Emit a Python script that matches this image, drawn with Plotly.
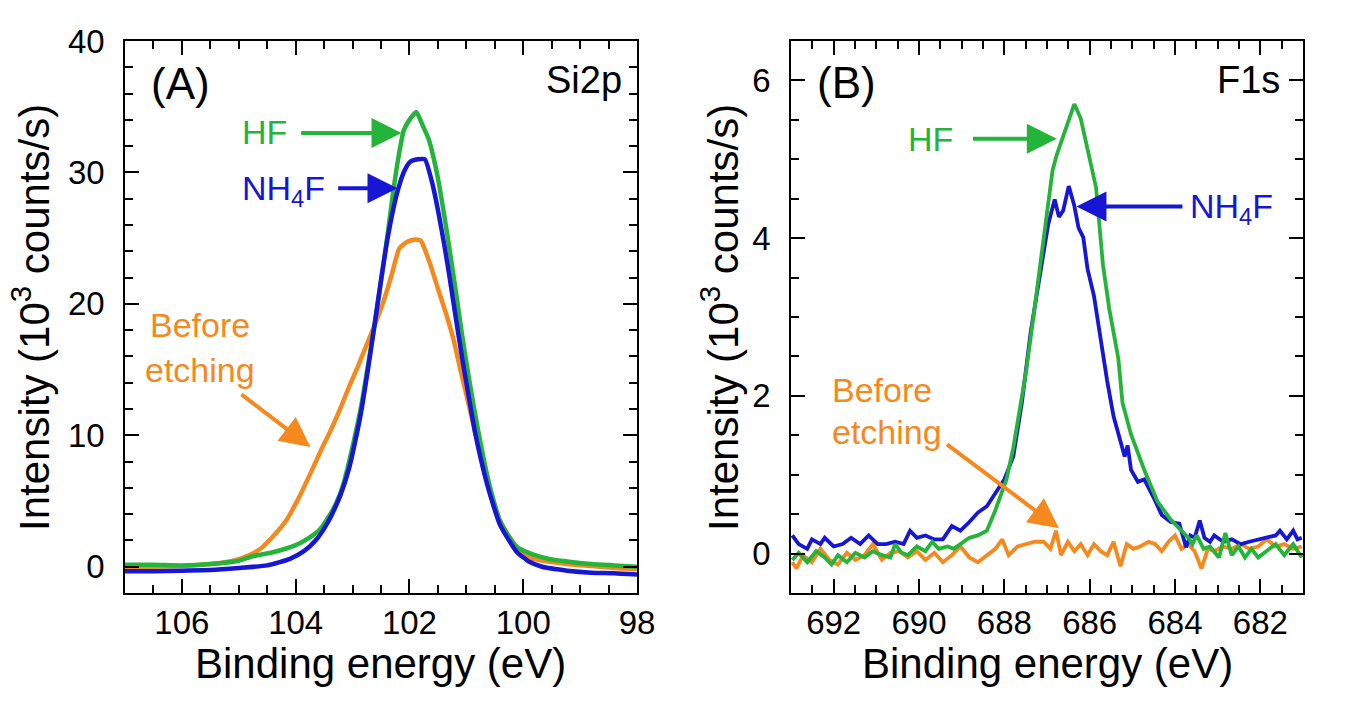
import plotly.graph_objects as go

# ---------------- Panel A : Si2p ----------------
a_before_E = [107.0, 106.5, 106.0, 105.5, 105.06, 104.8, 104.61, 104.4, 104.17, 103.95, 103.73, 103.55,
              103.36, 103.2, 103.06, 102.9, 102.77, 102.6, 102.47, 102.32, 102.18, 102.05, 101.9, 101.8,
              101.65, 101.51, 101.36, 101.22, 101.1, 101.0, 100.85, 100.70, 100.55, 100.41, 100.25, 100.11,
              99.95, 99.82, 99.5, 99.23, 98.8, 98.4, 98.0]
a_before_I = [-0.05, 0.0, 0.05, 0.2, 0.5, 0.9, 1.4, 2.3, 3.5, 5.2, 7.2, 8.9,
              10.6, 12.2, 13.7, 15.3, 16.7, 18.5, 20.0, 22.1, 24.2, 24.7, 24.9, 24.8,
              23.2, 21.3, 19.3, 17.2, 14.9, 13.1, 10.3, 7.6, 5.4, 3.5, 2.3, 1.4,
              0.9, 0.6, 0.35, 0.2, 0.05, -0.1, -0.2]

a_hf_E = [107.0, 106.5, 106.0, 105.5, 105.0, 104.76, 104.4, 104.02, 103.8, 103.58, 103.42, 103.28,
          103.16, 103.06, 102.95, 102.84, 102.73, 102.62, 102.47, 102.38, 102.29, 102.2, 102.10, 102.0,
          101.88, 101.77, 101.66, 101.57, 101.48, 101.38, 101.29, 101.18, 101.07, 100.96, 100.85, 100.74,
          100.63, 100.52, 100.41, 100.25, 100.11, 99.9, 99.74, 99.5, 99.23, 98.8, 98.4, 98.0]
a_hf_I = [0.15, 0.15, 0.1, 0.2, 0.45, 0.8, 1.1, 1.6, 2.1, 2.8, 3.8, 4.9,
          6.3, 8.0, 10.1, 12.4, 15.3, 18.2, 22.6, 25.4, 28.4, 31.0, 33.2, 34.0,
          34.6, 33.6, 32.5, 31.0, 29.1, 26.5, 24.0, 20.8, 17.5, 14.5, 11.7, 9.2,
          6.9, 5.0, 3.5, 2.3, 1.5, 1.05, 0.8, 0.55, 0.4, 0.2, 0.1, 0.0]

a_nh4f_E = [107.0, 106.5, 106.0, 105.5, 105.0, 104.5, 104.1, 103.85, 103.65, 103.5, 103.36, 103.2,
            103.06, 102.95, 102.84, 102.73, 102.62, 102.5, 102.40, 102.28, 102.18, 102.08, 101.99, 101.85,
            101.73, 101.6, 101.48, 101.38, 101.29, 101.18, 101.07, 100.96, 100.85, 100.74, 100.63, 100.52,
            100.41, 100.25, 100.11, 99.9, 99.67, 99.4, 99.23, 98.8, 98.4, 98.0]
a_nh4f_I = [-0.35, -0.35, -0.3, -0.25, -0.1, 0.1, 0.6, 1.2, 2.0, 2.9, 4.0, 5.6,
            7.5, 9.6, 12.0, 15.0, 18.2, 21.8, 24.6, 27.3, 29.0, 30.2, 30.8, 31.0,
            31.0, 29.2, 26.7, 24.3, 21.9, 18.8, 15.8, 13.0, 10.3, 8.1, 6.2, 4.6,
            3.2, 2.0, 1.1, 0.4, 0.0, -0.2, -0.3, -0.45, -0.5, -0.6]

# ---------------- Panel B : F1s ----------------
b_hf_E = [692.97, 692.82, 692.62, 692.41, 692.21, 692.05, 691.90, 691.69, 691.49, 691.28, 691.08, 690.87,
          690.67, 690.56, 690.41, 690.26, 690.05, 689.85, 689.69, 689.54, 689.33, 689.18, 689.03, 688.82,
          688.62, 688.41, 688.21, 687.95, 687.79, 687.49, 687.28, 687.08, 686.87, 686.77, 686.56, 686.36,
          686.21, 686.05, 685.85, 685.69, 685.54, 685.33, 685.23, 685.03, 684.72, 684.41, 684.10, 683.90,
          683.69, 683.59, 683.49, 683.33, 683.18, 682.97, 682.82, 682.67, 682.51, 682.36, 682.21, 682.05,
          681.85, 681.64, 681.44, 681.23, 681.03]
b_hf_I = [-0.08, 0.01, -0.11, 0.03, -0.05, -0.14, -0.02, -0.11, 0.01, -0.05, 0.03, -0.02,
          -0.05, 0.12, 0.01, -0.02, 0.09, 0.03, 0.15, 0.06, 0.09, 0.06, 0.12, 0.20,
          0.23, 0.29, 0.55, 0.94, 1.34, 2.31, 3.16, 4.01, 4.86, 5.06, 5.38, 5.70,
          5.52, 5.15, 4.64, 3.67, 3.10, 2.48, 1.91, 1.51, 1.06, 0.66, 0.43, 0.32,
          0.20, 0.12, 0.23, 0.06, 0.09, -0.05, 0.26, -0.02, 0.09, -0.05, 0.06, -0.05,
          0.03, 0.12, -0.02, 0.12, -0.05]

b_nh4f_E = [692.97, 692.82, 692.62, 692.51, 692.31, 692.21, 692.00, 691.79, 691.59, 691.38, 691.18, 690.97,
            690.77, 690.56, 690.36, 690.21, 690.05, 689.85, 689.64, 689.44, 689.23, 689.03, 688.82, 688.62,
            688.41, 688.21, 688.00, 687.79, 687.59, 687.38, 687.18, 686.97, 686.82, 686.72, 686.62, 686.49,
            686.36, 686.26, 686.15, 686.05, 685.90, 685.74, 685.59, 685.44, 685.28, 685.18, 685.11, 685.03,
            684.87, 684.72, 684.51, 684.31, 684.10, 683.90, 683.74, 683.64, 683.54, 683.42, 683.31, 683.18,
            683.08, 682.87, 682.67, 682.46, 682.26, 682.05, 681.85, 681.64, 681.54, 681.38, 681.23, 681.13,
            681.03]
b_nh4f_I = [0.23, 0.12, 0.06, 0.18, 0.12, 0.20, 0.09, 0.12, 0.20, 0.12, 0.23, 0.12,
            0.12, 0.15, 0.12, 0.29, 0.20, 0.23, 0.18, 0.18, 0.35, 0.29, 0.40, 0.52,
            0.60, 0.77, 0.94, 1.23, 1.91, 2.82, 3.50, 4.18, 4.49, 4.27, 4.35, 4.66,
            4.41, 4.13, 4.01, 3.61, 3.27, 2.70, 2.19, 1.74, 1.40, 1.23, 1.37, 1.06,
            0.91, 0.94, 0.72, 0.49, 0.40, 0.38, 0.08, 0.23, 0.20, 0.42, 0.20, 0.15,
            0.23, 0.15, 0.18, 0.12, 0.15, 0.18, 0.20, 0.23, 0.29, 0.18, 0.29, 0.18,
            0.20]

b_before_E = [692.97, 692.87, 692.72, 692.51, 692.31, 692.10, 691.90, 691.69, 691.49, 691.28, 691.08, 690.87,
              690.67, 690.46, 690.26, 690.05, 689.85, 689.64, 689.44, 689.23, 689.03, 688.82, 688.62, 688.41,
              688.21, 688.05, 687.90, 687.69, 687.49, 687.28, 687.08, 686.92, 686.79, 686.67, 686.51, 686.36,
              686.21, 686.05, 685.90, 685.74, 685.59, 685.44, 685.28, 685.13, 684.97, 684.82, 684.62, 684.46,
              684.31, 684.15, 684.00, 683.85, 683.69, 683.54, 683.38, 683.23, 683.08, 682.87, 682.67, 682.46,
              682.26, 682.05, 681.85, 681.64, 681.44, 681.23, 681.03]
b_before_I = [-0.11, -0.19, -0.02, -0.11, 0.06, -0.08, -0.14, 0.01, -0.08, -0.02, 0.12, -0.08,
              0.01, 0.03, -0.05, 0.03, -0.08, 0.01, -0.11, -0.02, 0.09, -0.05, -0.11, -0.02,
              0.06, 0.18, -0.02, 0.09, 0.12, 0.15, 0.15, 0.06, 0.29, -0.02, 0.15, 0.03,
              0.12, -0.02, 0.12, 0.03, -0.02, 0.15, -0.16, 0.12, 0.06, 0.09, 0.15, 0.12,
              0.03, 0.15, 0.23, 0.06, 0.12, 0.03, -0.19, 0.06, 0.03, 0.09, 0.06, 0.12,
              0.06, 0.09, 0.18, 0.09, 0.12, 0.06, 0.09]

# axis settings
xa_range = [107, 98]
ya_range = [-2, 40]
xb_range = [693, 681]
yb_range = [-0.5, 6.5]
x_title = "Binding energy (eV)"
y_title = "Intensity (10<sup>3</sup> counts/s)"

GREEN = "#25b43a"
BLUE = "#1616d4"
ORANGE = "#f5891d"
FONT = "Liberation Sans, Arial, sans-serif"

fig = go.Figure()
fig.add_trace(go.Scatter(x=a_before_E, y=a_before_I, mode="lines", line=dict(color=ORANGE, width=4.5, shape="spline", smoothing=0.5), xaxis="x", yaxis="y"))
fig.add_trace(go.Scatter(x=a_hf_E, y=a_hf_I, mode="lines", line=dict(color=GREEN, width=4.5, shape="spline", smoothing=0.5), xaxis="x", yaxis="y"))
fig.add_trace(go.Scatter(x=a_nh4f_E, y=a_nh4f_I, mode="lines", line=dict(color=BLUE, width=4.5, shape="spline", smoothing=0.5), xaxis="x", yaxis="y"))

fig.add_trace(go.Scatter(x=b_before_E, y=b_before_I, mode="lines", line=dict(color=ORANGE, width=3.8), xaxis="x2", yaxis="y2"))
fig.add_trace(go.Scatter(x=b_nh4f_E, y=b_nh4f_I, mode="lines", line=dict(color=BLUE, width=3.8), xaxis="x2", yaxis="y2"))
fig.add_trace(go.Scatter(x=b_hf_E, y=b_hf_I, mode="lines", line=dict(color=GREEN, width=3.8), xaxis="x2", yaxis="y2"))

common_axis = dict(
    showline=True, linecolor="black", linewidth=1.5, mirror="ticks",
    ticks="inside", ticklen=14, tickwidth=1.5, tickcolor="black",
    showgrid=False, zeroline=False, automargin=False,
    tickfont=dict(family=FONT, size=33, color="black"),
)
minor_ticks = dict(ticks="inside", ticklen=8, tickwidth=1.5, tickcolor="black")

fig.update_layout(
    width=1368, height=703,
    margin=dict(l=0, r=0, t=0, b=0),
    paper_bgcolor="white", plot_bgcolor="white",
    showlegend=False,
    xaxis=dict(domain=[125/1368, 637/1368], range=xa_range, tick0=98, dtick=2,
               minor=dict(dtick=0.5, **minor_ticks), ticklabelstandoff=0, anchor="y", **common_axis),
    yaxis=dict(domain=[1-593/703, 1-41/703], range=ya_range, tick0=0, dtick=10,
               minor=dict(dtick=2, **minor_ticks), ticklabelstandoff=12, anchor="x", **common_axis),
    xaxis2=dict(domain=[791/1368, 1303/1368], range=xb_range, tick0=682, dtick=2,
                minor=dict(dtick=0.5, **minor_ticks), ticklabelstandoff=0, anchor="y2", **common_axis),
    yaxis2=dict(domain=[1-593/703, 1-41/703], range=yb_range, tick0=0, dtick=2,
                minor=dict(dtick=0.5, **minor_ticks), ticklabelstandoff=12, anchor="x2", **common_axis),
)

def label(text, x, y, xref, yref, color, size, xanchor="center", angle=0):
    fig.add_annotation(text=text, x=x, y=y, xref=xref, yref=yref, showarrow=False, textangle=angle,
                       font=dict(family=FONT, size=size, color=color), xanchor=xanchor, yanchor="middle")

def arrow(x, y, ax, ay, xref, yref, color):
    fig.add_annotation(text="", x=x, y=y, ax=ax, ay=ay, xref=xref, yref=yref, axref=xref, ayref=yref,
                       showarrow=True, arrowhead=2, arrowsize=1.5, arrowwidth=4, arrowcolor=color, standoff=0)

# axis titles
label(x_title, (125 + 637) / 2 / 1368, 1 - 663/703, "paper", "paper", "black", 42)
label(x_title, (791 + 1303) / 2 / 1368, 1 - 663/703, "paper", "paper", "black", 42)
label(y_title, 31/1368, 1 - 318/703, "paper", "paper", "black", 42, angle=-90)
label(y_title, 720/1368, 1 - 318/703, "paper", "paper", "black", 42, angle=-90)

# Panel A labels
label("(A)", 106.03, 36.8, "x", "y", "black", 44)
label("Si2p", 98.22, 37.0, "x", "y", "black", 38, xanchor="right")
label("HF", 104.55, 33.1, "x", "y", GREEN, 34)
arrow(102.14, 33.0, 103.93, 33.0, "x", "y", GREEN)
label("NH<sub>4</sub>F", 104.21, 28.6, "x", "y", BLUE, 34)
arrow(102.21, 28.8, 103.28, 28.8, "x", "y", BLUE)
label("Before", 105.68, 18.4, "x", "y", ORANGE, 34)
label("etching", 105.68, 15.0, "x", "y", ORANGE, 34)
arrow(103.74, 9.1, 104.98, 13.2, "x", "y", ORANGE)

# Panel B labels
label("(B)", 691.71, 5.97, "x2", "y2", "black", 44)
label("F1s", 681.49, 6.0, "x2", "y2", "black", 38, xanchor="right")
label("HF", 689.72, 5.26, "x2", "y2", GREEN, 34)
arrow(686.77, 5.26, 688.77, 5.26, "x2", "y2", GREEN)
label("NH<sub>4</sub>F", 683.69, 4.38, "x2", "y2", BLUE, 34, xanchor="left")
arrow(686.31, 4.40, 683.79, 4.40, "x2", "y2", BLUE)
label("Before", 690.86, 2.08, "x2", "y2", ORANGE, 34)
label("etching", 690.75, 1.54, "x2", "y2", ORANGE, 34)
arrow(686.72, 0.32, 689.38, 1.40, "x2", "y2", ORANGE)

fig.write_html("out.html")
